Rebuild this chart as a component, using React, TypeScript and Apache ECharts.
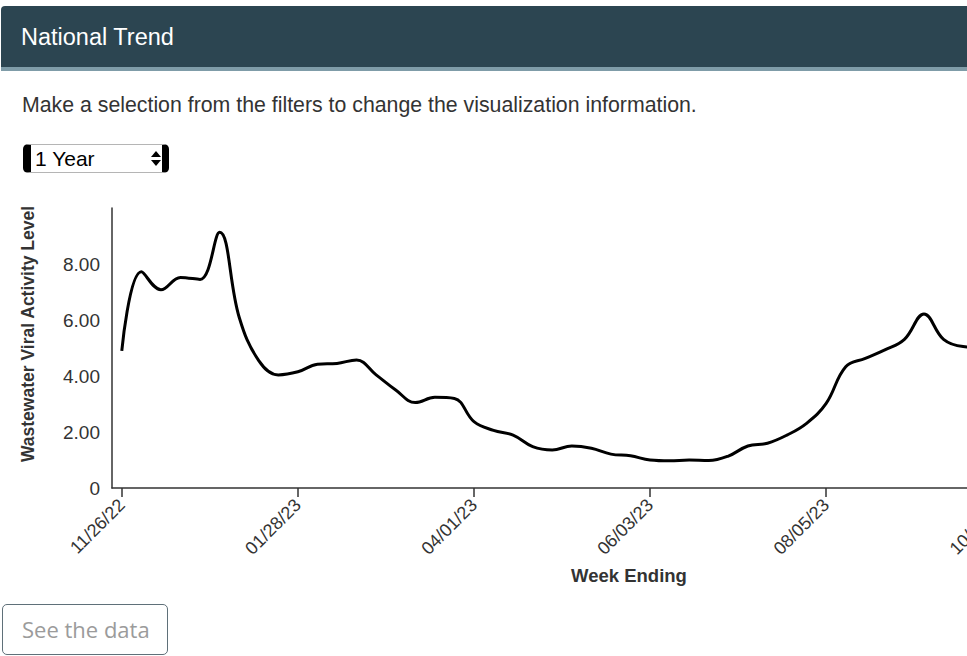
import React, { useEffect, useRef } from "react";
import * as echarts from "echarts";

const weeks: string[] = [
  "11/26/22", "12/03/22", "12/10/22", "12/17/22", "12/24/22", "12/31/22",
  "01/07/23", "01/14/23", "01/21/23", "01/28/23", "02/04/23", "02/11/23",
  "02/18/23", "02/25/23", "03/04/23", "03/11/23", "03/18/23", "03/25/23",
  "04/01/23", "04/08/23", "04/15/23", "04/22/23", "04/29/23", "05/06/23",
  "05/13/23", "05/20/23", "05/27/23", "06/03/23", "06/10/23", "06/17/23",
  "06/24/23", "07/01/23", "07/08/23", "07/15/23", "07/22/23", "07/29/23",
  "08/05/23", "08/12/23", "08/19/23", "08/26/23", "09/02/23", "09/09/23",
  "09/16/23", "09/23/23", "09/30/23", "10/07/23", "10/14/23", "10/21/23",
  "10/28/23", "11/04/23", "11/11/23", "11/18/23", "11/25/23",
];

const levels: number[] = [
  4.9, 7.72, 7.08, 7.52, 7.45, 9.13, 6.1, 4.55, 4.04, 4.15, 4.42, 4.45,
  4.57, 4.04, 3.5, 3.05, 3.24, 3.2, 2.37, 2.06, 1.89, 1.48, 1.36, 1.5,
  1.42, 1.21, 1.15, 1.0, 0.97, 1.0, 0.98, 1.14, 1.5, 1.6, 1.89, 2.31,
  3.02, 4.33, 4.63, 4.93, 5.31, 6.21, 5.31, 5.05, 5.02,
];

const yTicks: number[] = [0, 2, 4, 6, 8, 10];

const title = "National Trend";
const instruction =
  "Make a selection from the filters to change the visualization information.";
const yTitle = "Wastewater Viral Activity Level";
const xTitle = "Week Ending";

const FONT = "'Liberation Sans', Arial, Helvetica, sans-serif";

function Chart() {
  const ref = useRef<HTMLDivElement>(null);
  useEffect(() => {
    if (!ref.current) return;
    const chart = echarts.init(ref.current, null, { renderer: "svg" });
    chart.setOption({
      animation: false,
      textStyle: { fontFamily: FONT },
      grid: { left: 112, top: 18, width: 1037, height: 280, containLabel: false },
      xAxis: {
        type: "category",
        data: weeks,
        boundaryGap: true,
        axisLine: { show: true, lineStyle: { color: "#333", width: 1.5 } },
        axisTick: {
          show: true,
          alignWithLabel: true,
          interval: 8,
          length: 9,
          lineStyle: { color: "#333", width: 1.5 },
        },
        axisLabel: {
          interval: 8,
          rotate: 45,
          fontSize: 18,
          color: "#333",
          margin: 14,
          fontFamily: FONT,
        },
        splitLine: { show: false },
      },
      yAxis: {
        type: "value",
        min: yTicks[0],
        max: yTicks[yTicks.length - 1],
        interval: 2,
        axisLine: { show: true, lineStyle: { color: "#333", width: 1.5 } },
        axisTick: { show: false },
        axisLabel: {
          fontSize: 19,
          color: "#333",
          margin: 12,
          fontFamily: FONT,
          formatter: (v: number) =>
            v === 0 ? "0" : v >= 10 ? "" : v.toFixed(2),
        },
        splitLine: { show: false },
      },
      series: [
        {
          type: "line",
          data: levels,
          smooth: 0.4,
          showSymbol: false,
          symbol: "none",
          lineStyle: { color: "#000", width: 3 },
        },
      ],
      graphic: [
        {
          type: "text",
          x: 28,
          y: 144,
          rotation: Math.PI / 2,
          style: {
            text: yTitle,
            fill: "#333",
            font: `bold 17.5px ${FONT}`,
            align: "center",
            verticalAlign: "middle",
          },
        },
        {
          type: "text",
          x: 629,
          y: 385,
          style: {
            text: xTitle,
            fill: "#333",
            font: `bold 18.5px ${FONT}`,
            align: "center",
            verticalAlign: "middle",
          },
        },
      ],
    });
    return () => chart.dispose();
  }, []);
  return (
    <div
      ref={ref}
      style={{ position: "absolute", left: 0, top: 190, width: 1200, height: 466 }}
    />
  );
}

export default function App() {
  return (
    <div
      style={{
        position: "fixed",
        left: 0,
        top: 0,
        width: 967,
        height: 656,
        overflow: "hidden",
        background: "#fff",
        fontFamily: FONT,
      }}
    >
      <div
        style={{
          position: "absolute",
          left: 1,
          top: 6,
          width: 1000,
          height: 61,
          background: "#2c4551",
          borderBottom: "4px solid #7f9ca8",
          borderTopLeftRadius: 4,
        }}
      >
        <div
          style={{
            position: "absolute",
            left: 20,
            top: 1,
            height: 61,
            lineHeight: "61px",
            color: "#fff",
            fontSize: 23.5,
            whiteSpace: "nowrap",
          }}
        >
          {title}
        </div>
      </div>
      <div
        style={{
          position: "absolute",
          left: 22,
          top: 92,
          lineHeight: "26px",
          fontSize: 21.3,
          color: "#333",
          whiteSpace: "nowrap",
        }}
      >
        {instruction}
      </div>
      <div
        style={{
          position: "absolute",
          left: 23,
          top: 144,
          width: 146,
          height: 29,
          boxSizing: "border-box",
          borderLeft: "8px solid #000",
          borderRight: "7px solid #000",
          borderTop: "1px solid #b5b5b5",
          borderBottom: "1px solid #b5b5b5",
          borderRadius: 5,
          background: "#fff",
        }}
      >
        <div
          style={{
            position: "absolute",
            left: 4,
            top: 0,
            lineHeight: "27px",
            fontSize: 21,
            color: "#000",
            whiteSpace: "nowrap",
          }}
        >
          1 Year
        </div>
        <div
          style={{
            position: "absolute",
            left: 120,
            top: 6,
            width: 0,
            height: 0,
            borderLeft: "5px solid transparent",
            borderRight: "5px solid transparent",
            borderBottom: "6px solid #000",
          }}
        />
        <div
          style={{
            position: "absolute",
            left: 120,
            top: 15,
            width: 0,
            height: 0,
            borderLeft: "5px solid transparent",
            borderRight: "5px solid transparent",
            borderTop: "6px solid #000",
          }}
        />
      </div>
      <Chart />
      <div
        style={{
          position: "absolute",
          left: 2,
          top: 604,
          width: 166,
          height: 51,
          boxSizing: "border-box",
          border: "1.5px solid #5f7079",
          borderRadius: 5,
          background: "#fff",
          color: "#9b9b9b",
          fontFamily: "'Open Sans', sans-serif",
          fontSize: 22,
          lineHeight: "48px",
          paddingLeft: 19,
          whiteSpace: "nowrap",
        }}
      >
        See the data
      </div>
    </div>
  );
}
